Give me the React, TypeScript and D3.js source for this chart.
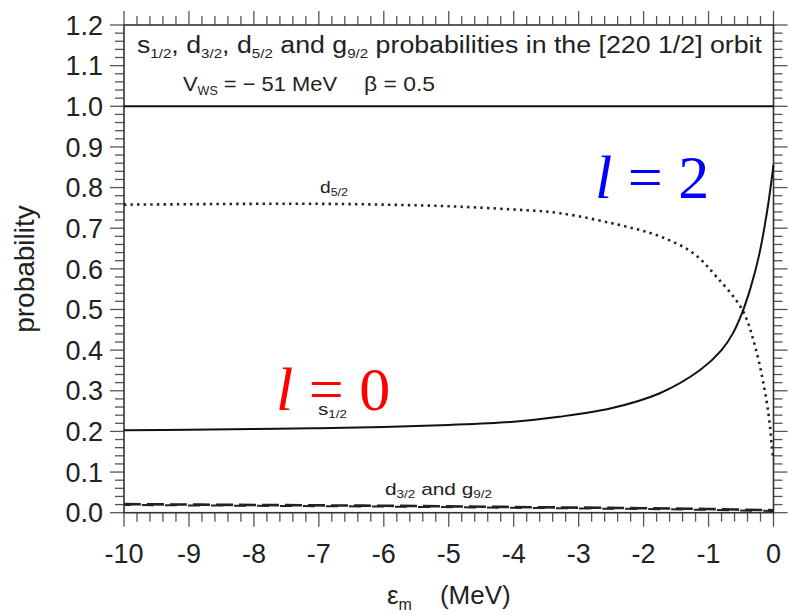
import React from 'react';
import * as d3 from 'd3';

const W = 788;
const H = 615;
const PLOT = { left: 124, right: 773.5, top: 25, bottom: 512.7 };

// x-axis (epsilon_m, MeV) and y-axis (probability) ticks
const xMajor = [-10, -9, -8, -7, -6, -5, -4, -3, -2, -1, 0];
const yMajor = [0, 0.1, 0.2, 0.3, 0.4, 0.5, 0.6, 0.7, 0.8, 0.9, 1.0, 1.1, 1.2];

// s1/2 probability (solid)
const s12X = [-10, -9, -8, -7, -6, -5, -4, -3.3, -2.5, -1.75, -1.13, -0.8, -0.63, -0.48, -0.35, -0.22, -0.1, 0];
const s12Y = [0.203, 0.204, 0.206, 0.208, 0.211, 0.216, 0.224, 0.236, 0.257, 0.294, 0.351, 0.4, 0.44, 0.493, 0.555, 0.635, 0.74, 0.856];

// d5/2 probability (dotted)
const d52X = [-10, -9, -8, -7, -6, -5, -4, -3.29, -2.27, -1.75, -1.24, -0.88, -0.48, -0.27, -0.11, -0.054, -0.028, 0];
const d52Y = [0.758, 0.759, 0.76, 0.76, 0.758, 0.754, 0.746, 0.737, 0.704, 0.68, 0.639, 0.581, 0.499, 0.401, 0.278, 0.212, 0.165, 0.13];

// d3/2 and g9/2 probabilities (dashed)
const smallX = [-10, -8, -6, -4, -2, -1, 0];
const d32Y = [0.021, 0.019, 0.017, 0.014, 0.011, 0.009, 0.006];
const g92Y = [0.019, 0.017, 0.015, 0.012, 0.009, 0.007, 0.004];

const x = d3.scaleLinear().domain([-10, 0]).range([PLOT.left, PLOT.right]);
const y = d3.scaleLinear().domain([0, 1.2]).range([PLOT.bottom, PLOT.top]);

const mk = (xs: number[], ys: number[]) =>
  d3
    .line<number>()
    .x((_, i) => x(xs[i]))
    .y((v) => y(v))
    .curve(d3.curveCatmullRom.alpha(0.5))(ys) as string;

const FONT = "'Liberation Sans', Arial, Helvetica, sans-serif";
const SERIF = "'Liberation Serif', 'Times New Roman', serif";
const TXT = '#222';

export default function App() {
  const xMinor = d3.range(-10, 0.001, 0.2).filter((v) => Math.abs(v - Math.round(v)) > 1e-6);
  const yMinor = d3.range(0, 1.2001, 0.02).filter((v) => Math.abs(v * 10 - Math.round(v * 10)) > 1e-6);
  const MAJ = 14;
  const MIN = 9;
  const tickStroke = '#555';
  const fmtY = d3.format('.1f');

  return (
    <svg width={W} height={H} style={{ position: 'absolute', left: 0, top: 0, background: '#fff' }}>
      <rect x={0} y={0} width={W} height={H} fill="#fff" />
      {/* ticks */}
      <g stroke={tickStroke} strokeWidth={1.3}>
        {xMajor.map((v) => (
          <g key={'xm' + v}>
            <line x1={x(v)} x2={x(v)} y1={PLOT.bottom} y2={PLOT.bottom + MAJ} />
            <line x1={x(v)} x2={x(v)} y1={PLOT.top} y2={PLOT.top - MAJ} />
          </g>
        ))}
        {xMinor.map((v, i) => (
          <g key={'xn' + i}>
            <line x1={x(v)} x2={x(v)} y1={PLOT.bottom} y2={PLOT.bottom + MIN} />
            <line x1={x(v)} x2={x(v)} y1={PLOT.top} y2={PLOT.top - MIN} />
          </g>
        ))}
        {yMajor.map((v) => (
          <g key={'ym' + v}>
            <line x1={PLOT.left} x2={PLOT.left - MAJ} y1={y(v)} y2={y(v)} />
            <line x1={PLOT.right} x2={PLOT.right + MAJ} y1={y(v)} y2={y(v)} />
          </g>
        ))}
        {yMinor.map((v, i) => (
          <g key={'yn' + i}>
            <line x1={PLOT.left} x2={PLOT.left - MIN} y1={y(v)} y2={y(v)} />
            <line x1={PLOT.right} x2={PLOT.right + MIN} y1={y(v)} y2={y(v)} />
          </g>
        ))}
      </g>
      {/* frame */}
      <rect
        x={PLOT.left}
        y={PLOT.top}
        width={PLOT.right - PLOT.left}
        height={PLOT.bottom - PLOT.top}
        fill="none"
        stroke="#333"
        strokeWidth={1.6}
      />
      <line x1={PLOT.left} x2={PLOT.right} y1={y(1)} y2={y(1)} stroke="#111" strokeWidth={2} />

      {/* tick labels */}
      <g fontFamily={FONT} fontSize={27} fill={TXT}>
        {yMajor.map((v) => (
          <text key={'yl' + v} x={103} y={y(v)} dy="0.36em" textAnchor="end">
            {fmtY(v)}
          </text>
        ))}
        {xMajor.map((v) => (
          <text key={'xl' + v} x={x(v)} y={563} textAnchor="middle">
            {String(v)}
          </text>
        ))}
      </g>

      {/* axis titles */}
      <text
        transform={`translate(34,${269}) rotate(-90)`}
        textAnchor="middle"
        fontFamily={FONT}
        fontSize={28}
        fill={TXT}
      >
        probability
      </text>
      <text x={387} y={604} fontFamily={FONT} fontSize={26} fill={TXT}>
        ε<tspan fontSize={16} dy={6}>m</tspan>
        <tspan dy={-6} dx={28}>(MeV)</tspan>
      </text>

      {/* header */}
      <text x={137} y={53} fontFamily={FONT} fontSize={23} fill={TXT} textLength={625} lengthAdjust="spacingAndGlyphs">
        s<tspan fontSize={13} dy={5}>1/2</tspan>
        <tspan dy={-5}>, d</tspan>
        <tspan fontSize={13} dy={5}>3/2</tspan>
        <tspan dy={-5}>, d</tspan>
        <tspan fontSize={13} dy={5}>5/2</tspan>
        <tspan dy={-5}> and g</tspan>
        <tspan fontSize={13} dy={5}>9/2</tspan>
        <tspan dy={-5}> probabilities in the [220 1/2] orbit</tspan>
      </text>
      <text x={183} y={91} fontFamily={FONT} fontSize={21} fill={TXT} textLength={154} lengthAdjust="spacingAndGlyphs">
        V<tspan fontSize={12} dy={4}>WS</tspan>
        <tspan dy={-4}> = − 51 MeV</tspan>
      </text>
      <text x={364} y={91} fontFamily={FONT} fontSize={21} fill={TXT} textLength={71} lengthAdjust="spacingAndGlyphs">
        β = 0.5
      </text>

      {/* curves */}
      <path d={mk(d52X, d52Y)} fill="none" stroke="#222" strokeWidth={2.6} strokeDasharray="2.4,4.2" />
      <path d={mk(s12X, s12Y)} fill="none" stroke="#111" strokeWidth={2} />
      <path d={mk(smallX, d32Y)} fill="none" stroke="#222" strokeWidth={2.6} strokeDasharray="17,6" />
      <path d={mk(smallX, g92Y)} fill="none" stroke="#222" strokeWidth={2} strokeDasharray="12,11" strokeDashoffset={5} />

      {/* curve labels */}
      <g fontFamily={FONT} fill={TXT}>
        <text x={320} y={193} fontSize={17} textLength={28} lengthAdjust="spacingAndGlyphs">
          d<tspan fontSize={11} dy={3}>5/2</tspan>
        </text>
        <text x={318} y={415} fontSize={17} textLength={29} lengthAdjust="spacingAndGlyphs">
          s<tspan fontSize={11} dy={3}>1/2</tspan>
        </text>
        <text x={385} y={495} fontSize={17} textLength={107} lengthAdjust="spacingAndGlyphs">
          d<tspan fontSize={11} dy={3}>3/2</tspan>
          <tspan dy={-3}> and g</tspan>
          <tspan fontSize={11} dy={3}>9/2</tspan>
        </text>
      </g>

      {/* orbital angular momentum annotations */}
      <text x={276} y={410} fontFamily={SERIF} fontSize={62} fill="#ff0000">
        <tspan fontStyle="italic">l</tspan> = 0
      </text>
      <text x={595} y={198} fontFamily={SERIF} fontSize={62} fill="#0000ff">
        <tspan fontStyle="italic">l</tspan> = 2
      </text>
    </svg>
  );
}
